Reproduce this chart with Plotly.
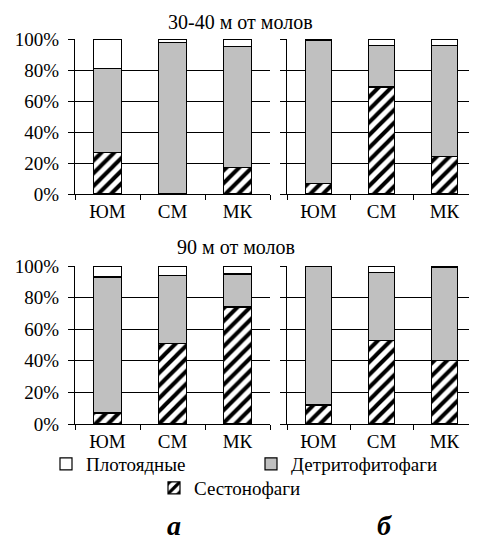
import plotly.graph_objects as go

categories = ["ЮМ", "СМ", "МК"]

# panel а (left), 30-40 m
a30_seston = [27, 0, 17]
a30_detrit = [54, 98, 78]
a30_plot = [19, 2, 5]
# panel б (right), 30-40 m
b30_seston = [7, 69, 24]
b30_detrit = [92, 27, 72]
b30_plot = [1, 4, 4]
# panel а, 90 m
a90_seston = [7, 51, 74]
a90_detrit = [86, 43, 21]
a90_plot = [7, 6, 5]
# panel б, 90 m
b90_seston = [12, 53, 40]
b90_detrit = [88, 43, 59]
b90_plot = [0, 4, 1]

names = ["Сестонофаги", "Детритофитофаги", "Плотоядные"]
ytick_vals = [0, 20, 40, 60, 80, 100]
ytick_text = ["0%", "20%", "40%", "60%", "80%", "100%"]
titles = ["30-40 м от молов", "90 м от молов"]
panel_letters = ["а", "б"]

W, H = 477, 554
OFF = 8  # page body margin offset
FONT = "Liberation Serif"
GREY = "#c0c0c0"

fig = go.Figure()

panels = [
    ("x", "y", a30_seston, a30_detrit, a30_plot, True),
    ("x2", "y2", b30_seston, b30_detrit, b30_plot, False),
    ("x3", "y3", a90_seston, a90_detrit, a90_plot, False),
    ("x4", "y4", b90_seston, b90_detrit, b90_plot, False),
]

legend_ids = {"Сестонофаги": "legend3", "Детритофитофаги": "legend2", "Плотоядные": "legend"}

for xa, ya, s, d, p, show in panels:
    fig.add_trace(go.Bar(
        x=categories, y=s, xaxis=xa, yaxis=ya, name=names[0],
        marker=dict(color="white", line=dict(color="black", width=1.2),
                    pattern=dict(shape="/", fgcolor="black", bgcolor="white", fgopacity=1,
                                 size=9, solidity=0.45)),
        showlegend=show, legend=legend_ids[names[0]]))
    fig.add_trace(go.Bar(
        x=categories, y=d, xaxis=xa, yaxis=ya, name=names[1],
        marker=dict(color=GREY, line=dict(color="black", width=1.2)),
        showlegend=show, legend=legend_ids[names[1]]))
    fig.add_trace(go.Bar(
        x=categories, y=p, xaxis=xa, yaxis=ya, name=names[2],
        marker=dict(color="white", line=dict(color="black", width=1.2)),
        showlegend=show, legend=legend_ids[names[2]]))

def fx(px):
    return (px - OFF) / W

def fy(py):
    return (H - (py - OFF)) / H

def px_x(a, b):
    return [fx(a), fx(b)]

def px_y(top, bottom):
    return [fy(bottom), fy(top)]

xdom_left = px_x(75, 270)
xdom_right = px_x(287, 476)
ydom_top = px_y(39, 194)
ydom_bot = px_y(266, 424)

axfont = dict(family=FONT, size=19, color="black")

def xaxis_cfg(dom, anchor):
    return dict(domain=dom, anchor=anchor, type="category", tickson="boundaries",
                ticks="outside", ticklen=5, tickcolor="black", showline=True,
                linecolor="black", linewidth=1.2, showgrid=False, tickfont=axfont,
                ticklabelstandoff=0, automargin=False, fixedrange=True)

def yaxis_cfg(dom, anchor, labels):
    return dict(domain=dom, anchor=anchor, range=[0, 100], tickvals=ytick_vals,
                ticktext=ytick_text, showticklabels=labels, ticks="outside", ticklen=6,
                tickcolor="black", showline=True, linecolor="black", linewidth=1.2,
                showgrid=True, gridcolor="black", gridwidth=1, zeroline=False,
                tickfont=axfont, ticklabelstandoff=5, automargin=False, fixedrange=True)

fig.update_layout(
    width=W, height=H,
    margin=dict(l=0, r=0, t=0, b=0),
    paper_bgcolor="white", plot_bgcolor="white",
    barmode="stack", bargap=0.58,
    font=dict(family=FONT, size=19, color="black"),
    xaxis=xaxis_cfg(xdom_left, "y"),
    yaxis=yaxis_cfg(ydom_top, "x", True),
    xaxis2=xaxis_cfg(xdom_right, "y2"),
    yaxis2=yaxis_cfg(ydom_top, "x2", False),
    xaxis3=xaxis_cfg(xdom_left, "y3"),
    yaxis3=yaxis_cfg(ydom_bot, "x3", True),
    xaxis4=xaxis_cfg(xdom_right, "y4"),
    yaxis4=yaxis_cfg(ydom_bot, "x4", False),
    legend=dict(x=fx(46), y=fy(464), xanchor="left", yanchor="middle",
                orientation="h", bgcolor="rgba(0,0,0,0)", font=axfont, itemwidth=30),
    legend2=dict(x=fx(251), y=fy(464), xanchor="left", yanchor="middle",
                 orientation="h", bgcolor="rgba(0,0,0,0)", font=axfont, itemwidth=30),
    legend3=dict(x=fx(154), y=fy(488), xanchor="left", yanchor="middle",
                 orientation="h", bgcolor="rgba(0,0,0,0)", font=axfont, itemwidth=30),
)

fig.add_annotation(text=titles[0], x=fx(240), y=fy(22), xref="paper", yref="paper",
                   showarrow=False, font=dict(family=FONT, size=20, color="black"),
                   xanchor="center", yanchor="middle")
fig.add_annotation(text=titles[1], x=fx(236), y=fy(247), xref="paper", yref="paper",
                   showarrow=False, font=dict(family=FONT, size=20, color="black"),
                   xanchor="center", yanchor="middle")
fig.add_annotation(text="<b><i>" + panel_letters[0] + "</i></b>", x=fx(174), y=fy(525),
                   xref="paper", yref="paper", showarrow=False,
                   font=dict(family=FONT, size=28, color="black"), xanchor="center", yanchor="middle")
fig.add_annotation(text="<b><i>" + panel_letters[1] + "</i></b>", x=fx(384), y=fy(525),
                   xref="paper", yref="paper", showarrow=False,
                   font=dict(family=FONT, size=28, color="black"), xanchor="center", yanchor="middle")

fig.write_html("out.html")
